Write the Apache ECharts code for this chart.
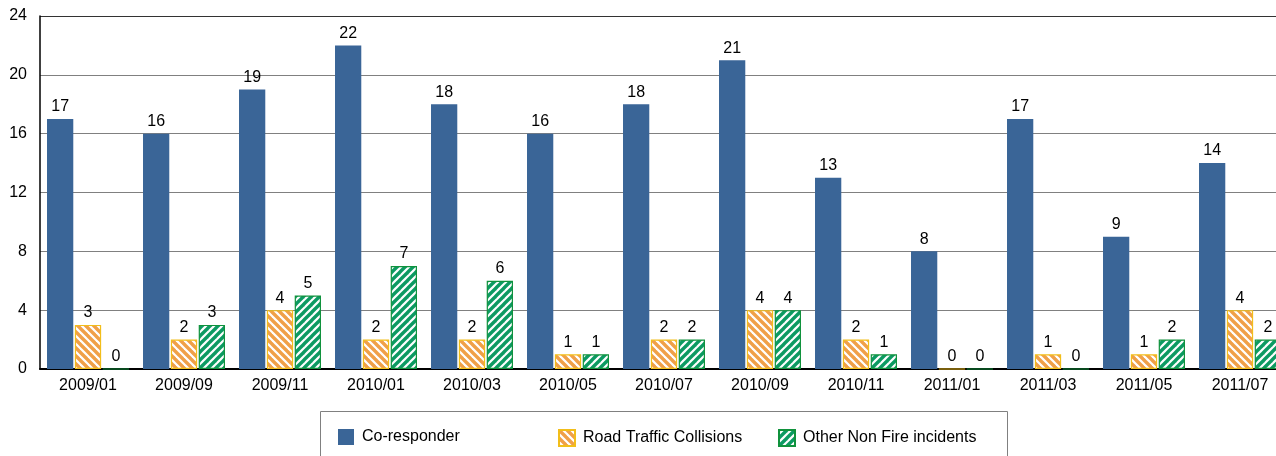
<!DOCTYPE html>
<html>
<head>
<meta charset="utf-8">
<script src="https://cdn.jsdelivr.net/npm/echarts@6/dist/echarts.min.js"></script>
<style>
  html, body { margin: 0; padding: 0; background: #fff; overflow: hidden; }
  /* the source chart runs slightly past the right edge of the picture */
  #chart { width: 1288px; height: 456px; }
</style>
</head>
<body>
<div id="chart"></div>
<script>
var categories = ['2009/01', '2009/09', '2009/11', '2010/01', '2010/03', '2010/05', '2010/07',
  '2010/09', '2010/11', '2011/01', '2011/03', '2011/05', '2011/07'];
var coResponder = [17, 16, 19, 22, 18, 16, 18, 21, 13, 8, 17, 9, 14];
var roadTraffic = [3, 2, 4, 2, 2, 1, 2, 4, 2, 0, 1, 1, 4];
var otherNonFire = [0, 3, 5, 7, 6, 1, 2, 4, 1, 0, 0, 2, 2];
var yTicks = [0, 4, 8, 12, 16, 20, 24];

// diagonal stripe fill, dir 1 = "\" , -1 = "/"
function stripes (color, dir) {
  var s = 8;
  var c = document.createElement('canvas');
  c.width = s; c.height = s;
  var ctx = c.getContext('2d');
  ctx.fillStyle = '#fff';
  ctx.fillRect(0, 0, s, s);
  ctx.strokeStyle = color;
  ctx.lineWidth = 3.4;
  for (var k = -2; k <= 2; k++) {
    ctx.beginPath();
    if (dir > 0) {
      ctx.moveTo(-s + k * s, -s);
      ctx.lineTo(2 * s + k * s, 2 * s);
    } else {
      ctx.moveTo(-s + k * s, 2 * s);
      ctx.lineTo(2 * s + k * s, -s);
    }
    ctx.stroke();
  }
  return { image: c, repeat: 'repeat' };
}

var chart = echarts.init(document.getElementById('chart'));
var font = 'Liberation Sans, Arial, sans-serif';
var label = { show: true, position: 'top', distance: 4, color: '#000', fontSize: 16, fontFamily: font };

function legendFor (name, x) {
  return {
    data: [name], left: x, top: 429, padding: 0,
    icon: 'rect', itemWidth: 16, itemHeight: 16,
    selectedMode: false,
    textStyle: { fontSize: 16, fontFamily: font, color: '#000', padding: [0, 0, 0, 3] }
  };
}

var option = {
  animation: false,
  backgroundColor: '#fff',
  grid: { left: 40, top: 16, right: 0, height: 353, containLabel: false },
  legend: [
    legendFor('Co-responder', 338),
    legendFor('Road Traffic Collisions', 558),
    legendFor('Other Non Fire incidents', 778)
  ],
  graphic: [{
    type: 'rect', silent: true,
    shape: { x: 320.5, y: 411.5, width: 687, height: 70 },
    style: { fill: 'none', stroke: '#808080', lineWidth: 1 }
  }],
  xAxis: {
    type: 'category',
    data: categories,
    axisLine: { lineStyle: { color: '#000', width: 2 } },
    axisTick: { show: false },
    axisLabel: { color: '#000', fontSize: 16, fontFamily: font, margin: 9 }
  },
  yAxis: {
    type: 'value',
    min: yTicks[0], max: yTicks[yTicks.length - 1], interval: 4,
    axisLine: { show: true, lineStyle: { color: '#000', width: 1.5 } },
    axisTick: { show: false },
    axisLabel: { color: '#000', fontSize: 16, fontFamily: font, margin: 13 },
    splitLine: { lineStyle: { color: ['#808080', '#808080', '#808080', '#808080', '#808080', '#808080', '#333'], width: 1.2 } }
  },
  series: [
    {
      name: 'Co-responder', type: 'bar', data: coResponder,
      barGap: '6%', barCategoryGap: '14.6%',
      itemStyle: { color: '#3A6597' },
      label: label
    },
    {
      name: 'Road Traffic Collisions', type: 'bar', data: roadTraffic,
      itemStyle: { color: stripes('#F0A048', 1), borderColor: '#F2BE1A', borderWidth: 1.2 },
      label: label
    },
    {
      name: 'Other Non Fire incidents', type: 'bar', data: otherNonFire,
      itemStyle: { color: stripes('#0C9A62', -1), borderColor: '#10923C', borderWidth: 1.2 },
      label: label
    }
  ]
};
chart.setOption(option);
</script>
</body>
</html>
